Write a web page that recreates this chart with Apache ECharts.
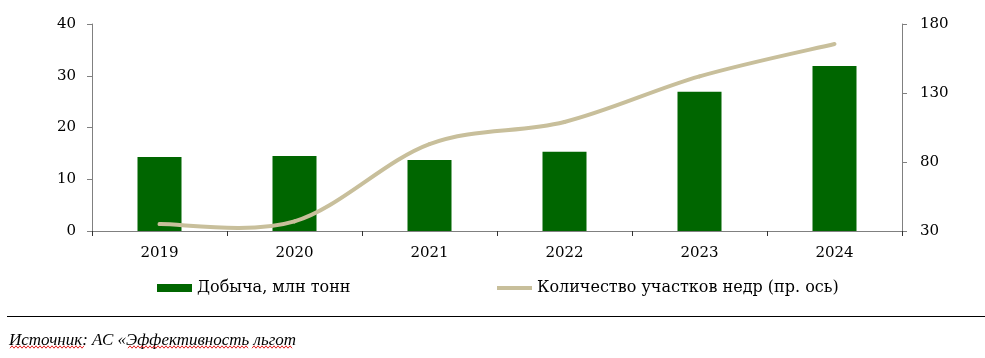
<!DOCTYPE html>
<html><head><meta charset="utf-8">
<script src="https://cdn.jsdelivr.net/npm/echarts@6/dist/echarts.min.js"></script>
<style>html,body{margin:0;padding:0;background:#fff}#c{width:985px;height:358px}</style>
</head><body><div id="c"></div>
<script>
var categories = ['2019','2020','2021','2022','2023','2024'];
var production = [14.3, 14.5, 13.7, 15.3, 26.9, 31.9];
var plots = [35, 37, 93, 109, 142, 165.5];
var leftTicks = {min: 0, max: 40, interval: 10};
var rightTicks = {min: 30, max: 180, interval: 50};
var barName = 'Добыча, млн тонн';
var lineName = 'Количество участков недр (пр. ось)';
var sourceText = 'Источник: АС «Эффективность льгот';

var FONT = 'DejaVu Serif';
var axisCol = '#808080';
var lineCol = '#C8BF9B';

function wavy(x1, x2, y) {
  var pts = [], k = 0;
  for (var x = x1; x <= x2; x += 2, k++) pts.push([x, y + (k % 2 ? -1.2 : 1.2)]);
  return {type: 'polyline', shape: {points: pts}, style: {stroke: '#e02020', lineWidth: 1, fill: null}};
}

var chart = echarts.init(document.getElementById('c'), null, {renderer:'canvas'});
chart.setOption({
  animation: false,
  textStyle: {fontFamily: FONT},
  grid: {left: 92, right: 83, top: 24, bottom: 127, containLabel: false},
  legend: [
    {data: [{name: barName, icon: 'rect', itemStyle: {color: '#006600'}}], left: 157, top: 280, padding: 0, itemWidth: 35, itemHeight: 8, itemGap: 5,
     textStyle: {fontFamily: FONT, fontSize: 16, color: '#000'}},
    {data: [{name: lineName, icon: 'rect', itemStyle: {color: lineCol}}], left: 497, top: 280, padding: 0, itemWidth: 35, itemHeight: 4, itemGap: 5,
     textStyle: {fontFamily: FONT, fontSize: 16, color: '#000'}}
  ],
  xAxis: {
    type: 'category', data: categories, boundaryGap: true,
    axisLine: {lineStyle: {color: axisCol, width: 1}},
    axisTick: {show: true, inside: false, length: 5, lineStyle: {color: '#333'}},
    axisLabel: {margin: 15, color: '#000', fontSize: 15, fontFamily: FONT},
    splitLine: {show: false}
  },
  yAxis: [
    {type: 'value', min: leftTicks.min, max: leftTicks.max, interval: leftTicks.interval, position: 'left',
     axisLine: {show: true, lineStyle: {color: axisCol}},
     axisTick: {show: true, length: 5, lineStyle: {color: axisCol}},
     axisLabel: {margin: 16, color: '#000', fontSize: 15, fontFamily: FONT},
     splitLine: {show: false}},
    {type: 'value', min: rightTicks.min, max: rightTicks.max, interval: rightTicks.interval, position: 'right',
     axisLine: {show: true, lineStyle: {color: axisCol}},
     axisTick: {show: true, length: 5, lineStyle: {color: axisCol}},
     axisLabel: {margin: 18, color: '#000', fontSize: 15, fontFamily: FONT},
     splitLine: {show: false}}
  ],
  series: [
    {name: barName, type: 'bar', data: production, yAxisIndex: 0, barWidth: 44,
     itemStyle: {color: '#006600'}, z: 2},
    {name: lineName, type: 'custom', yAxisIndex: 1, z: 3,
     itemStyle: {color: lineCol},
     data: plots.map(function (v, i) { return [i, v]; }),
     encode: {x: 0, y: 1},
     renderItem: function (params, api) {
       if (params.dataIndex !== 0) return null;
       var P = plots.map(function (v, i) { return api.coord([i, v]); });
       var children = [];
       for (var i = 0; i < P.length - 1; i++) {
         var p0 = P[Math.max(i - 1, 0)], p1 = P[i], p2 = P[i + 1], p3 = P[Math.min(i + 2, P.length - 1)];
         children.push({type: 'bezierCurve', shape: {
           x1: p1[0], y1: p1[1], x2: p2[0], y2: p2[1],
           cpx1: p1[0] + (p2[0] - p0[0]) / 6, cpy1: p1[1] + (p2[1] - p0[1]) / 6,
           cpx2: p2[0] - (p3[0] - p1[0]) / 6, cpy2: p2[1] - (p3[1] - p1[1]) / 6},
           style: {stroke: lineCol, lineWidth: 4, fill: null, lineCap: 'round'}});
       }
       return {type: 'group', children: children};
     }}
  ],
  graphic: [
    {type: 'line', shape: {x1: 7, y1: 316.5, x2: 985, y2: 316.5}, style: {stroke: '#000', lineWidth: 1}},
    {type: 'text', left: 9, top: 332, style: {text: sourceText, fill: '#000',
      font: 'italic 17px "Liberation Serif", serif'}},
    wavy(10, 85, 347), wavy(128, 248, 347), wavy(252, 293, 347)
  ]
});
</script></body></html>
